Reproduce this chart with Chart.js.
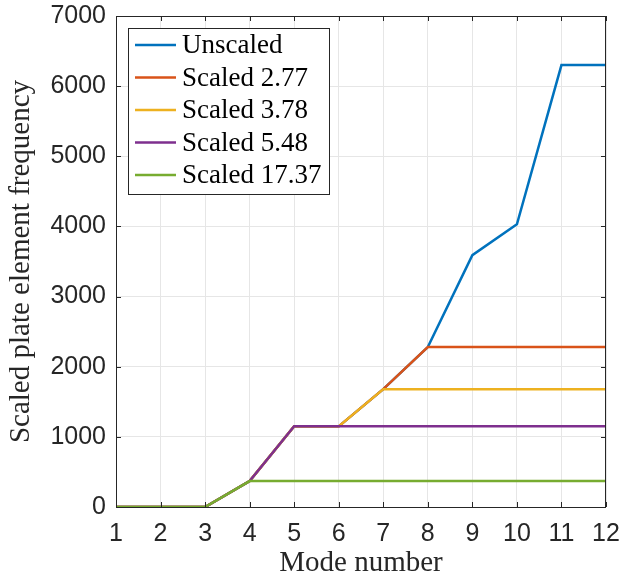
<!DOCTYPE html>
<html>
<head>
<meta charset="utf-8">
<script src="https://cdn.jsdelivr.net/npm/chart.js@4"></script>
<style>
  html, body { margin: 0; padding: 0; background: #fff; }
  #wrap { width: 620px; height: 578px; }
</style>
</head>
<body>
<div id="wrap"><canvas id="myChart" width="620" height="578"></canvas></div>
<script>
const modes = [1, 2, 3, 4, 5, 6, 7, 8, 9, 10, 11, 12];
const unscaled = [0, 0, 0, 370, 1150, 1150, 1680, 2280, 3590, 4030, 6300, 6300];
const scaled277 = [0, 0, 0, 370, 1150, 1150, 1680, 2280, 2280, 2280, 2280, 2280];
const scaled378 = [0, 0, 0, 370, 1150, 1150, 1680, 1680, 1680, 1680, 1680, 1680];
const scaled548 = [0, 0, 0, 370, 1150, 1150, 1150, 1150, 1150, 1150, 1150, 1150];
const scaled1737 = [0, 0, 0, 370, 370, 370, 370, 370, 370, 370, 370, 370];
const seriesNames = ["Unscaled", "Scaled 2.77", "Scaled 3.78", "Scaled 5.48", "Scaled 17.37"];
const yTicks = [0, 1000, 2000, 3000, 4000, 5000, 6000, 7000];

const colors = ["#0072BD", "#D95319", "#EDB120", "#7E2F8E", "#77AC30"];
const allSeries = [unscaled, scaled277, scaled378, scaled548, scaled1737];

const tickFont = { family: "'Liberation Sans', Arial, sans-serif", size: 25 };
const titleFont = { family: "'Liberation Serif', 'DejaVu Serif', serif", size: 29 };

// box, inward ticks and legend drawn like matlab
const boxPlugin = {
  id: "box",
  afterDraw(chart) {
    const { ctx, chartArea: a, scales } = chart;
    ctx.save();
    ctx.strokeStyle = "#262626";
    ctx.lineWidth = 1;
    ctx.strokeRect(a.left + 0.5, a.top + 0.5, a.right - a.left - 1, a.bottom - a.top);
    ctx.beginPath();
    modes.forEach(m => {
      const x = Math.round(scales.x.getPixelForValue(m)) + 0.5;
      ctx.moveTo(x, a.bottom); ctx.lineTo(x, a.bottom - 5);
      ctx.moveTo(x, a.top); ctx.lineTo(x, a.top + 5);
    });
    yTicks.forEach(v => {
      const y = Math.round(scales.y.getPixelForValue(v)) + 0.5;
      ctx.moveTo(a.left, y); ctx.lineTo(a.left + 5, y);
      ctx.moveTo(a.right, y); ctx.lineTo(a.right - 5, y);
    });
    ctx.stroke();

    // legend
    const lx = 128, ly = 28, lw = 201, lh = 166;
    ctx.fillStyle = "#fff";
    ctx.fillRect(lx, ly, lw, lh);
    ctx.strokeStyle = "#262626";
    ctx.strokeRect(lx + 0.5, ly + 0.5, lw, lh);
    ctx.font = "27px 'Liberation Serif', 'DejaVu Serif', serif";
    ctx.textBaseline = "middle";
    ctx.fillStyle = "#000";
    seriesNames.forEach((name, i) => {
      const y = ly + 17 + i * 32.5;
      ctx.strokeStyle = colors[i];
      ctx.lineWidth = 2.5;
      ctx.beginPath();
      ctx.moveTo(lx + 7, y); ctx.lineTo(lx + 48, y);
      ctx.stroke();
      ctx.fillText(name, lx + 54, y + 1);
    });
    ctx.restore();
  }
};

new Chart(document.getElementById("myChart").getContext("2d"), {
  type: "line",
  data: {
    labels: modes,
    datasets: allSeries.map((d, i) => ({
      label: seriesNames[i],
      data: d,
      borderColor: colors[i],
      backgroundColor: colors[i],
      borderWidth: 2.5,
      pointRadius: 0,
      tension: 0,
      order: 4 - i,
    })),
  },
  options: {
    responsive: false,
    animation: false,
    layout: { padding: { left: 0, right: 14, top: 16, bottom: 0 } },
    plugins: {
      legend: { display: false },
      tooltip: { enabled: false },
    },
    scales: {
      x: {
        type: "linear",
        min: 1,
        max: 12,
        afterBuildTicks: s => { s.ticks = modes.map(v => ({ value: v })); },
        afterFit: s => { s.height = 71; s.paddingLeft = 0; s.paddingRight = 0; },
        grid: { color: "#e6e6e6", drawTicks: false },
        border: { display: false },
        ticks: { color: "#262626", font: tickFont, padding: 12, maxRotation: 0 },
        title: { display: true, text: "Mode number", color: "#262626", font: titleFont, padding: { top: 0, bottom: -3 } },
      },
      y: {
        min: 0,
        max: 7000,
        afterBuildTicks: s => { s.ticks = yTicks.map(v => ({ value: v })); },
        afterFit: s => { s.width = 116; s.paddingTop = 0; s.paddingBottom = 0; },
        grid: { color: "#e6e6e6", drawTicks: false },
        border: { display: false },
        ticks: { color: "#262626", font: tickFont, padding: 10, callback: v => String(v) },
        title: { display: true, text: "Scaled plate element frequency", color: "#262626", font: titleFont, padding: { top: 4, bottom: 0 } },
      },
    },
  },
  plugins: [boxPlugin],
});
</script>
</body>
</html>
